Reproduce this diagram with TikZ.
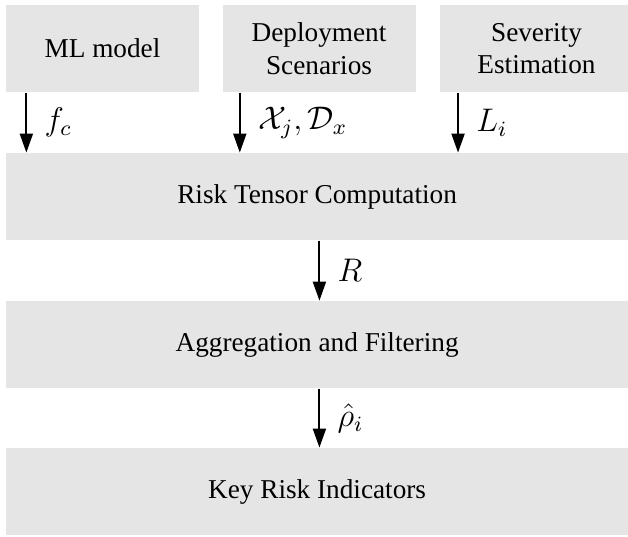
\documentclass[tikz,border=0pt]{standalone}
\usepackage{fontspec}
\setmainfont{Liberation Serif}
\usepackage{amsmath}
\usepackage{tikz}
\usetikzlibrary{positioning, arrows.meta}
\definecolor{boxgray}{HTML}{E5E5E5}

\begin{document}
\begin{tikzpicture}[
            block/.style={fill=boxgray, align=center, minimum height=1.12cm, inner sep=0pt},
            small/.style={block, minimum width=2.49cm},
            wide/.style={block, minimum width=8.02cm},
            lbl/.style={right=3pt, font=\fontsize{11.5}{14}\selectfont},
            flow/.style={line width=0.7pt, -{Triangle[length=7pt, width=4.8pt]}}]
            \useasboundingbox (0,0) rectangle (8.1,6.915);
            \node[small] (ml) at (1.322,6.289) {ML model};
            \node[small] (dep) at (4.115,6.289) {Deployment\\Scenarios};
            \node[small] (sev) at (6.920,6.289) {Severity\\Estimation};
            \node[wide] (risk) at (4.09,4.380) {Risk Tensor Computation};
            \node[wide] (agg) at (4.09,2.470) {Aggregation and Filtering};
            \node[wide] (kri) at (4.09,0.575) {Key Risk Indicators};
            \draw[flow] ([xshift=0.27cm]ml.south west) -- ([xshift=0.27cm]ml.south west |- risk.north) node[midway, lbl] {$f_c$};
            \draw[flow] ([xshift=0.23cm]dep.south west) -- ([xshift=0.23cm]dep.south west |- risk.north) node[midway, lbl] {$\mathcal{X}_j, \mathcal{D}_x$};
            \draw[flow] ([xshift=0.24cm]sev.south west) -- ([xshift=0.24cm]sev.south west |- risk.north) node[midway, lbl] {$L_i$};
            \draw[flow] ([xshift=0.03cm]risk.south) -- ([xshift=0.03cm]agg.north) node[midway, lbl] {$R$};
            \draw[flow] ([xshift=0.03cm]agg.south) -- ([xshift=0.03cm]kri.north) node[midway, lbl] {$\hat{\rho}_i$};
        \end{tikzpicture}
\end{document}
